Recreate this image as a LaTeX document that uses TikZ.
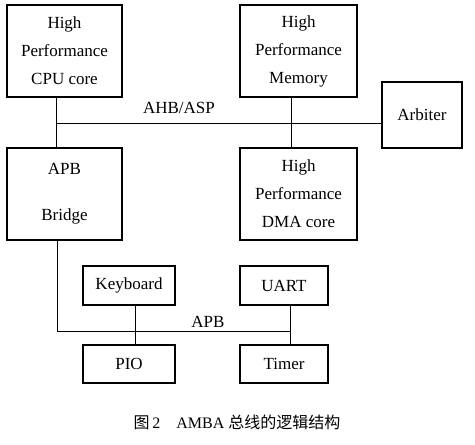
\documentclass[tikz,border=0pt]{standalone}
\usepackage{fontspec}
\setmainfont{Liberation Serif}
\newfontfamily\cjk{Noto Sans CJK SC}
\begin{document}
\begin{tikzpicture}[x=1pt,y=-1pt,
  box/.style={draw, line width=1.1pt, inner sep=0pt, align=center,
    font=\fontsize{17}{28}\selectfont},
  wire/.style={line width=1pt},
  lbl/.style={font=\fontsize{17}{18}\selectfont, inner sep=1pt}]
\useasboundingbox (0,0) rectangle (475,445);
\node[box, minimum width=115pt, minimum height=92pt] (cpu) at (64.5,51) {High\\Performance\\CPU core};
\node[box, minimum width=117pt, minimum height=92pt] (mem) at (298.5,51) {High\\Performance\\Memory};
\node[box, minimum width=80pt, minimum height=66pt] (arb) at (422,115) {Arbiter};
\node[box, minimum width=117pt, minimum height=92pt] (dma) at (298.5,194) {High\\Performance\\DMA core};
\node[box, minimum width=115pt, minimum height=92pt, font=\fontsize{17}{46}\selectfont] (bridge) at (64.5,194) {APB\\Bridge};
\node[box, minimum width=92pt, minimum height=39pt] (kb) at (129,285.5) {Keyboard};
\node[box, minimum width=88pt, minimum height=39pt] (uart) at (284,285.5) {UART};
\node[box, minimum width=92pt, minimum height=38pt] (pio) at (129,364) {PIO};
\node[box, minimum width=88pt, minimum height=38pt] (timer) at (284,364) {Timer};
\coordinate (ahbL) at (56,123);
\coordinate (memx) at (291,123);
\coordinate (apbL) at (57,331);
\coordinate (apbR) at (290,331);
\coordinate (kbx) at (135,331);
\draw[wire] (cpu.south -| ahbL) -- (bridge.north -| ahbL);
\draw[wire] (ahbL) -- (arb.west |- ahbL);
\draw[wire] (mem.south -| memx) -- (dma.north -| memx);
\draw[wire] (bridge.south -| apbL) -- (apbL) -- (apbR);
\draw[wire] (kb.south -| kbx) -- (pio.north -| kbx);
\draw[wire] (uart.south -| apbR) -- (timer.north -| apbR);
\node[lbl, anchor=base] (ahblbl) at (179,113) {AHB/ASP};
\node[lbl, anchor=base] (apblbl) at (208,327) {APB};
\node[font=\fontsize{16}{18}\selectfont, anchor=base] (cap) at (237,428) {{\cjk 图}\,2\quad AMBA {\cjk 总线的逻辑结构}};
\end{tikzpicture}
\end{document}
